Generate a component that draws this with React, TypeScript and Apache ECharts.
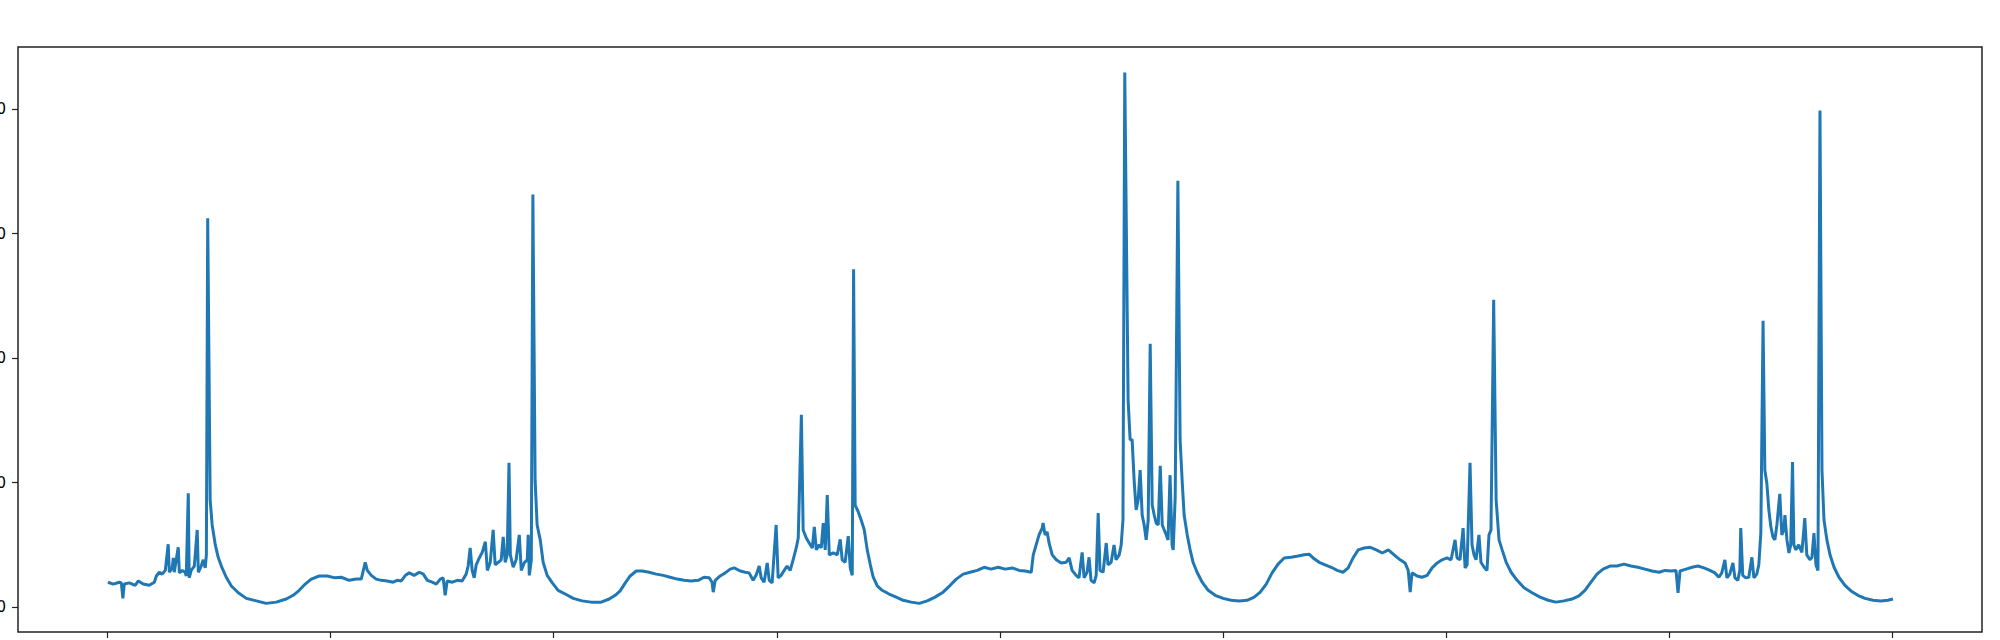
import React, { useEffect, useRef } from "react";
import * as echarts from "echarts";

// x positions (tick every 1000), y values (tick every 20)
const cycle1: number[][] = [
  [3, 4.0], [27, 3.7], [54, 4.0], [63, 3.9], [70, 1.4], [76, 3.7], [99, 3.9], [125, 3.5], [139, 4.2], [161, 3.7],
  [188, 3.5], [211, 4.0], [220, 5.0], [233, 5.6], [246, 5.3], [260, 5.9], [273, 10.1], [278, 5.6], [291, 6.3],
  [296, 7.9], [300, 5.6], [318, 9.6], [323, 5.5], [336, 5.9], [349, 5.6], [354, 5.0], [363, 18.3], [367, 4.7],
  [376, 5.9], [390, 6.6], [403, 12.4], [408, 5.6], [421, 6.6], [430, 7.6], [439, 6.3], [444, 8.4], [450, 62.5],
  [461, 17.2], [470, 13.2], [484, 10.0], [497, 8.0], [511, 6.6], [533, 4.8], [556, 3.4], [587, 2.3], [623, 1.4],
  [668, 1.0], [712, 0.6], [757, 0.8], [802, 1.3], [833, 1.9], [860, 2.7], [887, 3.7], [914, 4.5], [950, 5.0],
  [986, 5.0], [1021, 4.7], [1048, 4.8], [1084, 4.3], [1116, 4.5],
];

const cycle2: number[][] = [
  [1138, 4.5], [1156, 7.2], [1165, 5.9], [1183, 5.1], [1205, 4.5], [1228, 4.3], [1254, 4.2], [1281, 4.0],
  [1299, 4.3], [1317, 4.2], [1336, 5.1], [1353, 5.5], [1375, 5.1], [1398, 5.6], [1416, 5.3], [1434, 4.3],
  [1456, 4.0], [1474, 3.7], [1492, 4.5], [1505, 4.7], [1514, 1.9], [1523, 4.2], [1546, 4.0], [1568, 4.3],
  [1590, 4.2], [1608, 5.3], [1617, 6.6], [1626, 9.5], [1635, 5.9], [1644, 4.7], [1653, 6.8], [1667, 7.9],
  [1680, 8.8], [1694, 10.5], [1703, 5.9], [1716, 7.2], [1729, 12.4], [1738, 6.8], [1752, 7.2], [1765, 7.6],
  [1774, 11.3], [1783, 7.2], [1792, 8.4], [1800, 23.2], [1806, 8.4], [1819, 6.4], [1832, 7.6], [1846, 11.6],
  [1855, 5.9], [1868, 7.1], [1882, 7.6], [1886, 11.6], [1891, 5.1], [1900, 7.6], [1907, 66.3], [1917, 20.4],
  [1926, 13.2], [1940, 10.8], [1953, 7.2], [1971, 5.1], [1994, 3.9], [2020, 2.7], [2052, 2.1], [2088, 1.4],
  [2128, 1.0], [2168, 0.8], [2213, 0.8], [2249, 1.3], [2276, 1.9],
];

const cycle3: number[][] = [
  [2298, 2.6], [2321, 3.9], [2343, 5.0], [2370, 5.8], [2397, 5.8], [2428, 5.6], [2460, 5.3], [2491, 5.1],
  [2522, 4.8], [2554, 4.5], [2585, 4.3], [2616, 4.2], [2648, 4.3], [2674, 4.8], [2697, 4.7], [2710, 4.0],
  [2715, 2.4], [2724, 4.3], [2746, 5.0], [2769, 5.5], [2791, 6.1], [2809, 6.3], [2836, 5.8], [2858, 5.6],
  [2876, 5.5], [2894, 4.3], [2907, 5.1], [2921, 6.6], [2930, 4.7], [2943, 4.0], [2957, 7.1], [2966, 4.3],
  [2979, 3.9], [2997, 13.2], [3006, 4.7], [3019, 5.1], [3033, 5.9], [3046, 6.6], [3060, 5.9], [3073, 7.6],
  [3087, 9.5], [3096, 11.1], [3110, 30.9], [3118, 12.4], [3132, 11.1], [3145, 10.3], [3159, 9.5], [3168, 12.9],
  [3177, 9.2], [3190, 10.0], [3199, 9.5], [3208, 13.5], [3217, 9.2], [3226, 18.0], [3235, 8.4], [3253, 8.7],
  [3271, 8.4], [3284, 10.9], [3293, 7.6], [3306, 7.2], [3320, 11.4], [3329, 6.3], [3338, 5.1], [3344, 54.3],
  [3351, 16.4], [3365, 15.3], [3378, 14.0], [3392, 12.4], [3405, 9.2], [3419, 6.8], [3432, 4.8], [3450, 3.4],
];

const cycle4: number[][] = [
  [3472, 2.7], [3503, 2.1], [3535, 1.6], [3566, 1.1], [3602, 0.8], [3638, 0.6], [3674, 1.0], [3709, 1.6],
  [3745, 2.4], [3777, 3.5], [3804, 4.5], [3835, 5.3], [3866, 5.6], [3898, 5.9], [3929, 6.4], [3960, 6.1],
  [3992, 6.4], [4023, 6.1], [4055, 6.3], [4086, 5.9], [4113, 5.8], [4140, 5.6], [4149, 8.4], [4162, 10.0],
  [4175, 11.6], [4189, 12.7], [4193, 13.5], [4202, 11.6], [4211, 12.1], [4220, 10.3], [4234, 8.4], [4252, 7.6],
  [4274, 7.1], [4296, 7.2], [4310, 7.9], [4323, 5.9], [4341, 5.1], [4354, 4.7], [4368, 8.8], [4377, 4.7],
  [4390, 5.6], [4399, 8.0], [4408, 4.3], [4422, 3.9], [4431, 5.1], [4440, 15.1], [4448, 5.9], [4462, 5.6],
  [4476, 10.3], [4484, 6.8], [4498, 7.2], [4511, 10.0], [4520, 7.6], [4534, 8.4], [4543, 10.0], [4551, 14.0],
  [4559, 85.9], [4574, 33.3], [4583, 26.9], [4592, 26.9], [4601, 20.4], [4610, 15.6], [4619, 17.2], [4628, 22.0],
  [4637, 14.8], [4646, 13.2], [4655, 10.8], [4664, 14.0], [4673, 42.3], [4682, 16.4], [4691, 14.8], [4700, 13.5],
  [4709, 13.2], [4718, 22.7], [4727, 13.2], [4736, 12.4], [4745, 11.6], [4753, 10.8], [4762, 21.2], [4771, 10.0],
  [4776, 9.2], [4785, 17.7], [4797, 68.5], [4807, 26.9], [4816, 20.4], [4825, 14.8], [4839, 11.6], [4852, 9.2],
  [4865, 7.2], [4883, 5.6], [4906, 4.0], [4933, 2.7], [4964, 1.9],
];

const cycle5: number[][] = [
  [5000, 1.4], [5036, 1.1], [5071, 1.0], [5107, 1.1], [5139, 1.6], [5166, 2.4], [5193, 3.7], [5219, 5.5],
  [5246, 6.9], [5273, 7.9], [5304, 8.0], [5336, 8.2], [5363, 8.4], [5385, 8.5], [5403, 7.9], [5430, 7.2],
  [5457, 6.8], [5484, 6.4], [5511, 5.9], [5537, 5.6], [5560, 6.3], [5582, 7.9], [5605, 9.2], [5632, 9.5],
  [5659, 9.6], [5686, 9.2], [5713, 8.7], [5740, 9.2], [5766, 8.4], [5793, 7.6], [5815, 7.1], [5829, 5.9],
  [5838, 2.4], [5846, 5.5], [5869, 5.0], [5891, 4.8], [5914, 5.1], [5936, 6.3], [5959, 7.1], [5981, 7.6],
  [6003, 7.9], [6021, 7.6], [6039, 10.8], [6048, 7.9], [6061, 7.6], [6075, 12.7], [6084, 6.3], [6093, 6.8],
  [6106, 23.2], [6115, 10.0], [6124, 8.4], [6133, 7.6], [6146, 11.6], [6155, 7.2], [6169, 6.4], [6182, 5.9],
  [6191, 11.6], [6200, 12.4], [6212, 49.4], [6223, 17.2], [6236, 10.8], [6250, 9.2], [6268, 7.2], [6290, 5.6],
  [6317, 4.3], [6348, 3.1], [6384, 2.3], [6420, 1.6], [6456, 1.1], [6491, 0.8], [6527, 1.0], [6563, 1.3],
];

const cycle6: number[][] = [
  [6594, 1.8], [6621, 2.7], [6648, 4.0], [6675, 5.3], [6702, 6.1], [6733, 6.6], [6764, 6.6], [6796, 6.9],
  [6827, 6.6], [6858, 6.4], [6890, 6.1], [6921, 5.8], [6953, 5.6], [6980, 5.9], [7006, 5.8], [7029, 5.9],
  [7038, 2.3], [7047, 5.8], [7074, 6.1], [7101, 6.4], [7127, 6.6], [7154, 6.3], [7181, 5.9], [7203, 5.5],
  [7221, 4.8], [7234, 5.5], [7248, 7.6], [7257, 4.7], [7270, 5.3], [7284, 7.1], [7293, 4.7], [7306, 4.3],
  [7315, 5.9], [7319, 12.7], [7328, 5.1], [7342, 4.7], [7355, 4.8], [7369, 8.0], [7378, 4.7], [7391, 5.3],
  [7400, 6.8], [7409, 11.9], [7419, 46.0], [7427, 22.0], [7436, 19.9], [7445, 15.6], [7454, 12.9], [7463, 11.3],
  [7472, 10.8], [7481, 13.2], [7494, 18.2], [7503, 11.6], [7512, 12.4], [7517, 14.8], [7526, 10.8], [7535, 8.7],
  [7543, 10.0], [7551, 23.3], [7557, 10.0], [7566, 9.2], [7579, 10.0], [7593, 8.8], [7606, 14.3], [7615, 8.4],
  [7629, 7.6], [7638, 8.0], [7647, 11.9], [7656, 6.8], [7665, 5.9], [7674, 79.8], [7683, 22.0], [7692, 14.0],
  [7705, 10.8], [7719, 8.4], [7737, 6.4], [7759, 4.8], [7786, 3.5], [7813, 2.6], [7844, 1.9], [7876, 1.4],
  [7912, 1.1], [7947, 1.0], [7979, 1.1], [8001, 1.3],
];

const xTicks = [0, 1000, 2000, 3000, 4000, 5000, 6000, 7000, 8000];
const yTicks = [0, 20, 40, 60, 80];

export default function App() {
  const ref = useRef<HTMLDivElement>(null);
  useEffect(() => {
    if (!ref.current) return;
    const chart = echarts.init(ref.current, null, { renderer: "svg" });
    const data = [...cycle1, ...cycle2, ...cycle3, ...cycle4, ...cycle5, ...cycle6];
    chart.setOption({
      animation: false,
      backgroundColor: "#ffffff",
      grid: {
        left: 58,
        right: 18,
        top: 47,
        bottom: 48,
        show: true,
        borderColor: "#222",
        borderWidth: 1.5,
        backgroundColor: "transparent",
      },
      xAxis: {
        type: "value",
        min: -400,
        max: 8400,
        splitLine: { show: false },
        axisLine: { show: false, onZero: false },
        axisTick: { show: true, length: 6, lineStyle: { color: "#222", width: 1.2 }, customValues: xTicks },
        axisLabel: {
          show: true,
          customValues: xTicks,
          fontSize: 15,
          color: "#000",
          fontFamily: "DejaVu Sans",
          margin: 10,
        },
      },
      yAxis: {
        type: "value",
        min: -4,
        max: 90,
        splitLine: { show: false },
        axisLine: { show: false, onZero: false },
        axisTick: { show: true, length: 6, lineStyle: { color: "#222", width: 1.2 }, customValues: yTicks },
        axisLabel: {
          show: true,
          customValues: yTicks,
          fontSize: 15,
          color: "#000",
          fontFamily: "DejaVu Sans",
          margin: 12,
        },
      },
      series: [
        {
          type: "line",
          data,
          showSymbol: false,
          symbol: "none",
          lineStyle: { color: "#1f77b4", width: 3 },
          itemStyle: { color: "#1f77b4" },
        },
      ],
    });
    return () => chart.dispose();
  }, []);
  return (
    <div
      ref={ref}
      style={{ position: "fixed", left: -40, top: 0, width: 2040, height: 680, background: "#fff" }}
    />
  );
}
